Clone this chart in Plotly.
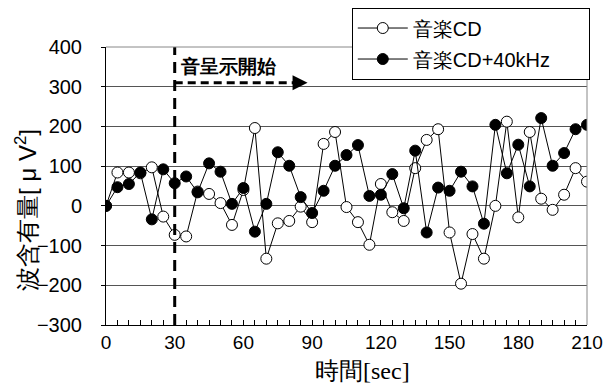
import plotly.graph_objects as go

t = list(range(0, 211, 5))
cd = [0, 84, 84, 82, 97, -27, -73, -77, 36, 30, 7, -48, 40, 196, -133, -44, -38, -2, -41, 156,
      186, -3, -41, -98, 55, -16, -38, 95, 166, 193, -67, -196, -71, -133, 0, 212, -29, 186,
      18, -10, 28, 95, 61]
cd40 = [0, 47, 55, 84, -34, 92, 57, 74, 34, 107, 86, 5, 45, -65, 5, 135, 101, 22, -18, 38,
        101, 128, 153, 25, 28, 80, -6, 139, -67, 46, 38, 86, 49, -45, 204, 82, 154, 49, 221,
        101, 133, 193, 204]

xticks = [0, 30, 60, 90, 120, 150, 180, 210]
yticks = [-300, -200, -100, 0, 100, 200, 300, 400]

FONT = "Liberation Sans, Arial, sans-serif"
NB = "\u00a0"

fig = go.Figure()
fig.add_trace(go.Scatter(x=t, y=cd, mode="lines+markers", name="音楽CD",
                         legendgroup="a",
                         line=dict(color="black", width=1),
                         marker=dict(symbol="circle", size=11, color="white",
                                     line=dict(color="black", width=1))))
fig.add_trace(go.Scatter(x=t, y=cd40, mode="lines+markers", name="音楽CD+40kHz" + NB * 6,
                         legendgroup="b",
                         line=dict(color="black", width=1),
                         marker=dict(symbol="circle", size=11, color="black",
                                     line=dict(color="black", width=1))))

# stimulus onset line
fig.add_shape(type="line", x0=30, x1=30, y0=-300, y1=400, xref="x", yref="y",
              line=dict(color="black", width=3, dash="11px,7px"))
# dashed arrow shaft
fig.add_shape(type="line", x0=30, x1=84, y0=310, y1=310, xref="x", yref="y",
              line=dict(color="black", width=3, dash="8px,5px"))
fig.add_annotation(x=88, y=310, ax=-12, ay=0, xref="x", yref="y", text="",
                   showarrow=True, arrowhead=2, arrowsize=1.2, arrowwidth=2.5,
                   arrowcolor="black")
fig.add_annotation(x=31.5, y=350, xref="x", yref="y", text="<b>音呈示開始</b>",
                   showarrow=False, xanchor="left", yanchor="middle",
                   font=dict(size=19, color="black", family=FONT))

# axis titles
fig.add_annotation(x=0, y=0.414, xref="paper", yref="paper", xshift=-80,
                   text="波含有量[ μ V<sup>2</sup>]", textangle=-90,
                   showarrow=False, xanchor="center", yanchor="middle",
                   font=dict(size=24, color="black", family=FONT))
fig.add_annotation(x=0.534, y=-0.162, xref="paper", yref="paper",
                   text="時間<span style='font-family:Liberation Serif'>[sec]</span>",
                   showarrow=False, xanchor="center", yanchor="middle",
                   font=dict(size=24, color="black", family=FONT))

# gray frame top/right
fig.add_shape(type="line", x0=0, x1=1, y0=1, y1=1, xref="paper", yref="paper",
              line=dict(color="#888", width=1))
fig.add_shape(type="line", x0=1, x1=1, y0=0, y1=1, xref="paper", yref="paper",
              line=dict(color="#888", width=1))

fig.update_layout(
    width=607, height=385,
    margin=dict(l=106, r=20, t=47, b=60, autoexpand=False),
    paper_bgcolor="white", plot_bgcolor="white",
    font=dict(family=FONT, color="black", size=16),
    showlegend=True,
    legend=dict(x=0.511, y=1.142, xanchor="left", yanchor="top",
                bgcolor="white", bordercolor="black", borderwidth=1,
                font=dict(size=20, family=FONT), itemwidth=50,
                tracegroupgap=2),
    xaxis=dict(range=[0, 210], tickvals=xticks, ticks="inside", ticklen=5,
               tickcolor="black", showline=True, linecolor="black", linewidth=1,
               showgrid=False, zeroline=False, automargin=False,
               minor=dict(dtick=5, ticks="inside", ticklen=5, tickcolor="black"),
               tickfont=dict(size=19)),
    yaxis=dict(range=[-300, 400], tickvals=yticks, ticks="outside", ticklen=4,
               tickcolor="black", showline=True, linecolor="black", linewidth=1,
               showgrid=True, gridcolor="#555", gridwidth=1, zeroline=False,
               automargin=False, ticklabelstandoff=15,
               tickfont=dict(size=20)),
)

fig.write_html("out.html", config={"displayModeBar": False},
               post_script="document.body.style.margin='0';")
